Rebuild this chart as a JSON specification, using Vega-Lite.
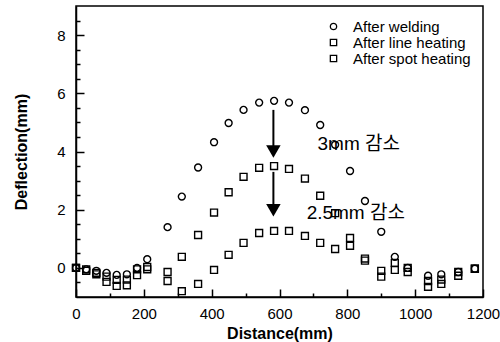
{
  "$schema": "https://vega.github.io/schema/vega-lite/v6.json",
  "width": 407,
  "height": 291,
  "autosize": "none",
  "padding": {"left": 76, "top": 6, "right": 17, "bottom": 45},
  "background": "white",
  "config": {
    "view": {"stroke": "black", "strokeWidth": 1.5},
    "font": "Liberation Sans, Arial, Noto Sans CJK KR",
    "axis": {"domainColor": "black", "domainWidth": 1.5, "tickColor": "black", "tickWidth": 1.5, "grid": false, "labelColor": "black", "titleColor": "black", "labelFlush": false}
  },
  "datasets": {
    "pts": [
      {"series": "After welding", "d": 0, "v": 0},
      {"series": "After welding", "d": 30, "v": -0.05},
      {"series": "After welding", "d": 60, "v": -0.1},
      {"series": "After welding", "d": 90, "v": -0.17},
      {"series": "After welding", "d": 120, "v": -0.24},
      {"series": "After welding", "d": 150, "v": -0.22},
      {"series": "After welding", "d": 180, "v": 0.0},
      {"series": "After welding", "d": 210, "v": 0.3},
      {"series": "After welding", "d": 270, "v": 1.4},
      {"series": "After welding", "d": 312, "v": 2.45},
      {"series": "After welding", "d": 360, "v": 3.45},
      {"series": "After welding", "d": 407, "v": 4.32},
      {"series": "After welding", "d": 450, "v": 4.98},
      {"series": "After welding", "d": 494, "v": 5.43},
      {"series": "After welding", "d": 540, "v": 5.68},
      {"series": "After welding", "d": 584, "v": 5.74},
      {"series": "After welding", "d": 628, "v": 5.68},
      {"series": "After welding", "d": 675, "v": 5.42},
      {"series": "After welding", "d": 720, "v": 4.91},
      {"series": "After welding", "d": 764, "v": 4.23},
      {"series": "After welding", "d": 808, "v": 3.33},
      {"series": "After welding", "d": 852, "v": 2.3},
      {"series": "After welding", "d": 900, "v": 1.24},
      {"series": "After welding", "d": 940, "v": 0.38},
      {"series": "After welding", "d": 978, "v": 0.0},
      {"series": "After welding", "d": 1038, "v": -0.27},
      {"series": "After welding", "d": 1077, "v": -0.22},
      {"series": "After welding", "d": 1127, "v": -0.14},
      {"series": "After welding", "d": 1176, "v": -0.03},
      {"series": "After line heating", "d": 0, "v": 0},
      {"series": "After line heating", "d": 30, "v": -0.05},
      {"series": "After line heating", "d": 60, "v": -0.17},
      {"series": "After line heating", "d": 90, "v": -0.3},
      {"series": "After line heating", "d": 120, "v": -0.41},
      {"series": "After line heating", "d": 150, "v": -0.4},
      {"series": "After line heating", "d": 180, "v": -0.05},
      {"series": "After line heating", "d": 210, "v": 0.03},
      {"series": "After line heating", "d": 270, "v": -0.14},
      {"series": "After line heating", "d": 312, "v": 0.38},
      {"series": "After line heating", "d": 360, "v": 1.13},
      {"series": "After line heating", "d": 407, "v": 1.9},
      {"series": "After line heating", "d": 450, "v": 2.6},
      {"series": "After line heating", "d": 494, "v": 3.13},
      {"series": "After line heating", "d": 540, "v": 3.44},
      {"series": "After line heating", "d": 584, "v": 3.5},
      {"series": "After line heating", "d": 628, "v": 3.4},
      {"series": "After line heating", "d": 675, "v": 3.07},
      {"series": "After line heating", "d": 720, "v": 2.48},
      {"series": "After line heating", "d": 764, "v": 1.88},
      {"series": "After line heating", "d": 808, "v": 1.03},
      {"series": "After line heating", "d": 852, "v": 0.32},
      {"series": "After line heating", "d": 900, "v": -0.1},
      {"series": "After line heating", "d": 940, "v": 0.17},
      {"series": "After line heating", "d": 978, "v": 0.0},
      {"series": "After line heating", "d": 1038, "v": -0.45},
      {"series": "After line heating", "d": 1077, "v": -0.4},
      {"series": "After line heating", "d": 1127, "v": -0.14},
      {"series": "After line heating", "d": 1176, "v": -0.03},
      {"series": "After spot heating", "d": 0, "v": 0},
      {"series": "After spot heating", "d": 30, "v": -0.1},
      {"series": "After spot heating", "d": 60, "v": -0.22},
      {"series": "After spot heating", "d": 90, "v": -0.48},
      {"series": "After spot heating", "d": 120, "v": -0.62},
      {"series": "After spot heating", "d": 150, "v": -0.6},
      {"series": "After spot heating", "d": 180, "v": -0.25},
      {"series": "After spot heating", "d": 210, "v": -0.05},
      {"series": "After spot heating", "d": 270, "v": -0.45},
      {"series": "After spot heating", "d": 312, "v": -0.8},
      {"series": "After spot heating", "d": 360, "v": -0.55},
      {"series": "After spot heating", "d": 407, "v": -0.07},
      {"series": "After spot heating", "d": 450, "v": 0.45},
      {"series": "After spot heating", "d": 494, "v": 0.86},
      {"series": "After spot heating", "d": 540, "v": 1.2},
      {"series": "After spot heating", "d": 584, "v": 1.27},
      {"series": "After spot heating", "d": 628, "v": 1.27},
      {"series": "After spot heating", "d": 675, "v": 1.1},
      {"series": "After spot heating", "d": 720, "v": 0.86},
      {"series": "After spot heating", "d": 764, "v": 0.65},
      {"series": "After spot heating", "d": 808, "v": 0.76},
      {"series": "After spot heating", "d": 852, "v": 0.25},
      {"series": "After spot heating", "d": 900, "v": -0.3},
      {"series": "After spot heating", "d": 940, "v": -0.07},
      {"series": "After spot heating", "d": 978, "v": -0.14},
      {"series": "After spot heating", "d": 1038, "v": -0.65},
      {"series": "After spot heating", "d": 1077, "v": -0.55},
      {"series": "After spot heating", "d": 1127, "v": -0.27},
      {"series": "After spot heating", "d": 1176, "v": -0.03}
    ],
    "arrows": [
      {"d": 582, "top": 5.43, "bottom": 4.0},
      {"d": 582, "top": 3.3, "bottom": 1.98}
    ],
    "notes": [
      {"d": 712, "v": 4.26, "label": "3mm 감소"},
      {"d": 680, "v": 1.89, "label": "2.5mm 감소"}
    ]
  },
  "layer": [
    {
      "data": {"name": "pts"},
      "mark": {"type": "point", "filled": false, "strokeWidth": 1.4, "size": 48, "opacity": 1},
      "encoding": {
        "x": {
          "field": "d", "type": "quantitative",
          "scale": {"domain": [0, 1200], "nice": false, "zero": false},
          "axis": {"orient": "bottom", "values": [0, 200, 400, 600, 800, 1000, 1200], "format": "d", "tickSize": -8, "labelPadding": 17, "labelFontSize": 15, "title": "Distance(mm)", "titleFontSize": 16, "titleFontWeight": "bold", "titlePadding": 4}
        },
        "y": {
          "field": "v", "type": "quantitative",
          "scale": {"domain": [-1, 9], "nice": false, "zero": false},
          "axis": {"orient": "left", "values": [0, 2, 4, 6, 8], "format": "d", "tickSize": -8, "labelPadding": 19, "labelFontSize": 15, "title": "Deflection(mm)", "titleFontSize": 16, "titleFontWeight": "bold", "titlePadding": 27}
        },
        "shape": {
          "field": "series", "type": "nominal",
          "scale": {"domain": ["After welding", "After line heating", "After spot heating"], "range": ["circle", "square", "square"]},
          "legend": {
            "title": null, "orient": "none", "legendX": 250, "legendY": 13,
            "labelFontSize": 15, "labelOffset": 12, "symbolSize": 40, "symbolStrokeWidth": 1.3,
            "rowPadding": -1, "padding": 0,
            "encode": {"labels": {"update": {"fill": {"signal": "datum.label === 'After line heating' ? '#666666' : '#000000'"}}}}
          }
        },
        "color": {
          "field": "series", "type": "nominal",
          "scale": {"domain": ["After welding", "After line heating", "After spot heating"], "range": ["#000000", "#000000", "#000000"]},
          "legend": {
            "title": null, "orient": "none", "legendX": 250, "legendY": 13,
            "labelFontSize": 15, "labelOffset": 12, "symbolSize": 40, "symbolStrokeWidth": 1.3,
            "rowPadding": -1, "padding": 0,
            "encode": {"labels": {"update": {"fill": {"signal": "datum.label === 'After line heating' ? '#666666' : '#000000'"}}}}
          }
        }
      }
    },
    {
      "data": {"name": "pts"},
      "mark": {"type": "point", "opacity": 0, "size": 1},
      "encoding": {
        "x": {
          "field": "d", "type": "quantitative",
          "axis": {"orient": "bottom", "values": [100, 300, 500, 700, 900, 1100], "tickSize": -4, "labels": false, "domain": false, "title": null}
        },
        "y": {
          "field": "v", "type": "quantitative",
          "axis": {"orient": "left", "values": [-0.5, 0.5, 1, 1.5, 2.5, 3, 3.5, 4.5, 5, 5.5, 6.5, 7, 7.5, 8.5], "tickSize": -4, "labels": false, "domain": false, "title": null}
        }
      }
    },
    {
      "data": {"name": "arrows"},
      "mark": {"type": "rule", "color": "black", "strokeWidth": 2},
      "encoding": {
        "x": {"field": "d", "type": "quantitative", "axis": null},
        "y": {"field": "top", "type": "quantitative", "axis": null},
        "y2": {"field": "bottom"}
      }
    },
    {
      "data": {"name": "arrows"},
      "mark": {"type": "point", "shape": "triangle-down", "filled": true, "color": "black", "size": 210, "opacity": 1},
      "encoding": {
        "x": {"field": "d", "type": "quantitative", "axis": null},
        "y": {"field": "bottom", "type": "quantitative", "axis": null}
      }
    },
    {
      "data": {"name": "notes"},
      "mark": {"type": "text", "align": "left", "baseline": "middle", "fontSize": 19, "color": "black"},
      "encoding": {
        "x": {"field": "d", "type": "quantitative", "axis": null},
        "y": {"field": "v", "type": "quantitative", "axis": null},
        "text": {"field": "label"}
      }
    }
  ],
  "resolve": {"axis": {"x": "independent", "y": "independent"}}
}
